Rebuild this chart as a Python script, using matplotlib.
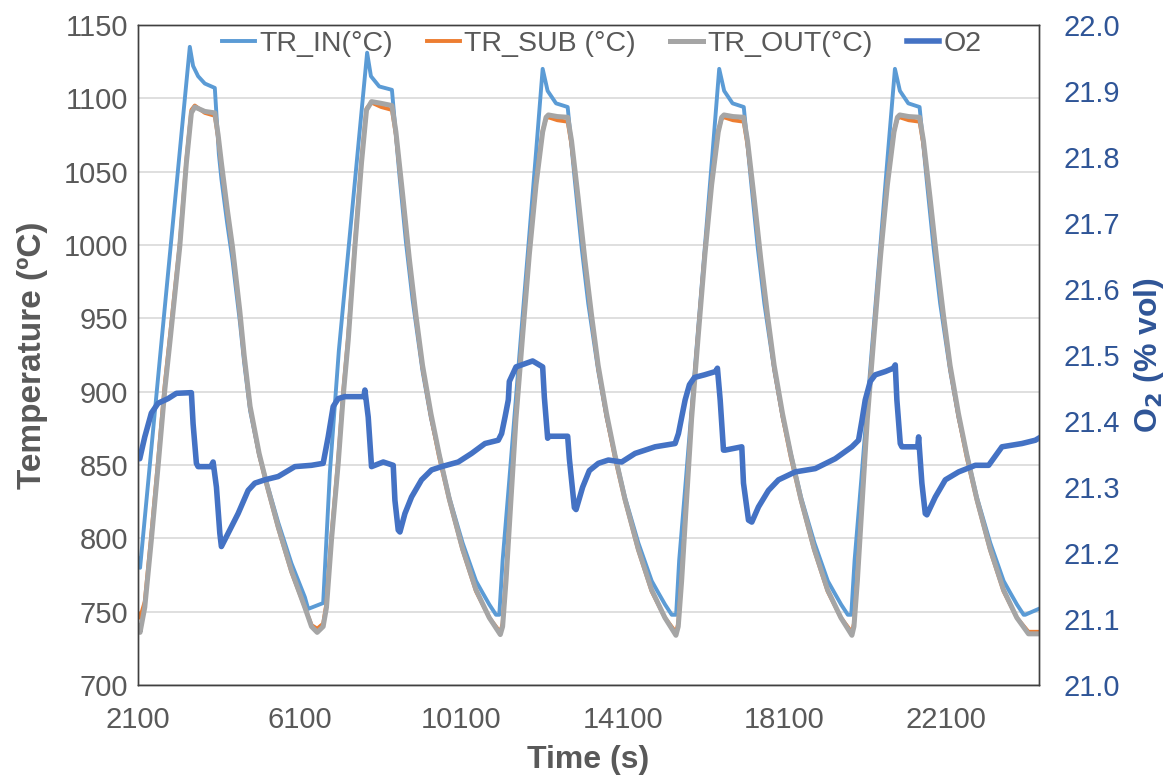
import numpy as np
import matplotlib
matplotlib.use("Agg")
import matplotlib.pyplot as plt

plt.rcParams['font.family'] = ['Liberation Sans', 'DejaVu Sans']

# TR_IN (blue)
t_in = [2100, 2150, 2638, 3381, 3462, 3586, 3752, 4000,
        4100, 4163, 4305, 4436, 4619, 4726, 4874, 5097, 5295, 5568, 5897, 6229, 6311, 6682, 6848, 7070, 7770,
        7864, 8070, 8384,
        8565, 8731, 8894, 9142, 9350, 9556, 9803, 10133, 10465, 10628, 10794, 10960, 11042,
        11124, 11290, 11537, 11785, 11951, 12115,
        12238, 12446, 12734,
        12915, 13081, 13244, 13492, 13700, 13906, 14153, 14483, 14815, 14978, 15144, 15310, 15419,
        15494, 15660, 15907, 16155, 16321, 16485,
        16608, 16816, 17093,
        17274, 17440, 17603, 17851, 18059, 18265, 18512, 18842, 19174, 19337, 19503, 19669, 19754,
        19836, 20002, 20249, 20497, 20663, 20835,
        20958, 21166, 21445,
        21626, 21792, 21955, 22203, 22411, 22617, 22864, 23194, 23526, 23689, 23855, 24021, 24060, 24393]
tr_in = [786, 780, 922, 1135, 1122, 1115, 1110, 1107,
         1062, 1045, 1015, 990, 948, 920, 887, 857, 837, 811, 783, 760, 752, 756, 845, 928, 1131,
         1115, 1108, 1105.7,
         1049, 1002, 963, 914, 882, 857, 828, 797, 771, 763, 755, 748, 748,
         785, 840, 924, 1007, 1063, 1120,
         1105, 1096.5, 1094,
         1043, 998, 960, 914, 882, 857, 828, 797, 771, 763, 755, 748, 748,
         785, 840, 924, 1007, 1063, 1120,
         1105, 1096.5, 1094,
         1043, 998, 960, 914, 882, 857, 828, 797, 771, 763, 755, 748, 748,
         785, 840, 924, 1007, 1063, 1120,
         1105, 1096.5, 1094,
         1043, 998, 960, 914, 882, 857, 828, 797, 771, 763, 755, 748, 748, 752]

# TR_SUB / TR_OUT share the same time stamps
t_out = [2100, 2150, 2266, 2429, 2595, 2761, 2893, 3133, 3296, 3420, 3504, 3752, 4000,
         4082, 4163, 4305, 4436, 4619, 4726, 4874, 5097, 5295, 5568, 5897, 6229, 6393, 6534,
         6682, 6764, 6888, 7054, 7178, 7302, 7468, 7631, 7755, 7879, 8119, 8384,
         8483, 8647, 8813, 8979, 9142, 9350, 9556, 9803, 10133, 10465, 10794, 11067,
         11124, 11208, 11332, 11456, 11619, 11785, 11951, 12115, 12199, 12256, 12479, 12734,
         12830, 12994, 13160, 13326, 13489, 13697, 13903, 14150, 14480, 14812, 15141, 15414,
         15471, 15555, 15679, 15803, 15966, 16132, 16298, 16462, 16546, 16603, 16826, 17090,
         17186, 17350, 17516, 17682, 17845, 18053, 18259, 18506, 18836, 19168, 19497, 19770,
         19821, 19905, 20029, 20153, 20316, 20482, 20648, 20812, 20896, 20953, 21176, 21445,
         21541, 21705, 21871, 22037, 22200, 22408, 22614, 22861, 23191, 23523, 23852, 24140, 24393]
tr_out = [740, 736, 753, 799, 849, 901, 935, 999, 1056, 1090, 1094, 1091, 1090,
          1075, 1056, 1025, 999, 955, 925, 890, 858, 836, 808, 778, 753, 740, 736,
          740, 753, 799, 851, 897, 935, 999, 1056, 1092, 1097.7, 1096.5, 1095,
          1077, 1035, 991, 952, 918, 885, 857, 827, 793, 765, 746, 734.5,
          740, 771, 827, 882, 938, 993.5, 1041, 1077, 1087, 1088.6, 1087.5, 1087,
          1071, 1032, 990, 952, 918, 885, 857, 827, 793, 765, 746, 734,
          740, 771, 827, 882, 938, 993.5, 1041, 1077, 1087, 1088.6, 1087.5, 1087,
          1071, 1032, 990, 952, 918, 885, 857, 827, 793, 765, 746, 734,
          740, 771, 827, 882, 938, 993.5, 1041, 1077, 1087, 1088.6, 1087.5, 1087,
          1071, 1032, 990, 952, 918, 885, 857, 827, 793, 765, 746, 735, 735]
tr_sub = [749, 746, 757, 803, 853, 905, 939, 1001, 1058, 1092, 1095, 1090, 1088,
          1073, 1054, 1023, 997, 953, 923, 889, 857, 835, 807, 777, 753, 741, 738.5,
          742, 756, 802, 854, 900, 938, 1001, 1058, 1093, 1097, 1094, 1092,
          1075, 1033, 989, 950, 916, 883, 855, 826, 792, 764, 746, 736,
          742, 774, 830, 885, 941, 996, 1043, 1078, 1086, 1087, 1085, 1084,
          1068, 1030, 988, 950, 916, 883, 855, 826, 792, 764, 746, 736,
          742, 774, 830, 885, 941, 996, 1043, 1078, 1086, 1087, 1085, 1084,
          1068, 1030, 988, 950, 916, 883, 855, 826, 792, 764, 746, 736,
          742, 774, 830, 885, 941, 996, 1043, 1078, 1086, 1087, 1085, 1084,
          1068, 1030, 988, 950, 916, 883, 855, 826, 792, 764, 746, 736.4, 736.4]

# O2 (% vol), right axis
t_o2 = [2100, 2142, 2266, 2429, 2595, 2843, 3049, 3420, 3462, 3544, 3586, 3900, 3958, 4040, 4124, 4163,
        4329, 4577, 4825, 4991, 5238, 5568, 5981, 6393, 6682, 6806, 6930, 7054, 7220, 7690, 7715,
        7797, 7879, 8169, 8416, 8458, 8540, 8582, 8706, 8870, 9117, 9365, 9613, 10026, 10356, 10688,
        11017, 11099, 11183, 11265, 11290, 11456, 11867, 12115, 12157, 12239, 12280, 12734, 12776,
        12900, 12942, 13105, 13271, 13494, 13742, 14071, 14403, 14898, 15394, 15476, 15557, 15642,
        15748, 15872, 16120, 16392, 16441, 16509, 16591, 16633, 17044, 17086, 17210, 17292, 17457,
        17705, 17953, 18367, 18862, 19357, 19769, 19934, 20016, 20100, 20224, 20348, 20596, 20794,
        20843, 20883, 20967, 21007, 21400, 21421, 21502, 21586, 21626, 21834, 22082, 22411, 22825,
        23155, 23484, 23980, 24311, 24393]
o2 = [21.343, 21.343, 21.376, 21.412, 21.427, 21.434, 21.442, 21.443, 21.396, 21.336, 21.331, 21.331, 21.338, 21.300, 21.230, 21.210,
      21.230, 21.260, 21.295, 21.306, 21.311, 21.316, 21.331, 21.333, 21.336, 21.376, 21.422, 21.434, 21.437, 21.437, 21.447,
      21.406, 21.331, 21.338, 21.333, 21.280, 21.235, 21.232, 21.260, 21.285, 21.311, 21.326, 21.331, 21.338, 21.351, 21.366,
      21.371, 21.381, 21.406, 21.432, 21.460, 21.482, 21.491, 21.482, 21.436, 21.374, 21.377, 21.377, 21.343,
      21.269, 21.266, 21.300, 21.325, 21.336, 21.341, 21.338, 21.351, 21.361, 21.366, 21.381, 21.406, 21.432,
      21.455, 21.466, 21.470, 21.475, 21.480, 21.432, 21.356, 21.356, 21.361, 21.306, 21.250, 21.247, 21.270,
      21.295, 21.311, 21.323, 21.328, 21.343, 21.361, 21.371, 21.400, 21.432, 21.460, 21.470, 21.475, 21.480,
      21.485, 21.432, 21.366, 21.361, 21.361, 21.376, 21.306, 21.260, 21.258, 21.285, 21.311, 21.323, 21.333,
      21.333, 21.361, 21.366, 21.371, 21.374]

x_ticks = [2100, 6100, 10100, 14100, 18100, 22100]

fig = plt.figure(figsize=(11.7, 7.76), dpi=100)
ax = fig.add_axes([0.118, 0.117, 0.770, 0.851])
ax2 = ax.twinx()

l1, = ax.plot(t_in, tr_in, color='#5B9BD5', lw=2.8, label='TR_IN(°C)')
l2, = ax.plot(t_out, tr_sub, color='#ED7D31', lw=2.8, label='TR_SUB (°C)')
l3, = ax.plot(t_out, tr_out, color='#A5A5A5', lw=3.6, label='TR_OUT(°C)')
l4, = ax2.plot(t_o2, o2, color='#4472C4', lw=4.0, label='O2')

ax.set_xlim(2100, 24400)
ax.set_ylim(700, 1150)
ax.set_yticks(np.arange(700, 1151, 50))
ax.set_xticks(x_ticks)
ax2.set_ylim(21.0, 22.0)
ax2.set_yticks(np.arange(21.0, 22.01, 0.1))
ax2.set_yticklabels([f'{v:.1f}' for v in np.arange(21.0, 22.01, 0.1)])

ax.grid(axis='y', color='#D9D9D9', lw=1.2)
ax.set_axisbelow(True)
for a in (ax, ax2):
    for s in a.spines.values():
        s.set_color('#404040')
        s.set_linewidth(1.0)
    a.tick_params(length=0)

ax.tick_params(axis='both', labelsize=21, labelcolor='#595959')
ax.tick_params(axis='y', pad=7)
ax.tick_params(axis='x', pad=15)
ax2.tick_params(axis='y', labelsize=21, labelcolor='#2F5597', pad=18)

ax.set_xlabel('Time (s)', fontsize=23, fontweight='bold', color='#595959', labelpad=8)
ax.set_ylabel('Temperature (ºC)', fontsize=24, fontweight='bold', color='#595959', labelpad=11)
ax2.set_ylabel('O$_\\mathbf{2}$ (% vol)', fontsize=23, fontweight='bold', color='#2F5597', labelpad=8)

ax.legend(handles=[l1, l2, l3, l4], loc='upper center', bbox_to_anchor=(0.515, 1.03), ncol=4,
          frameon=False, fontsize=20.5, labelcolor='#595959', handlelength=1.15,
          columnspacing=1.2, handletextpad=0.15)

fig.savefig('out.png', dpi=100)
